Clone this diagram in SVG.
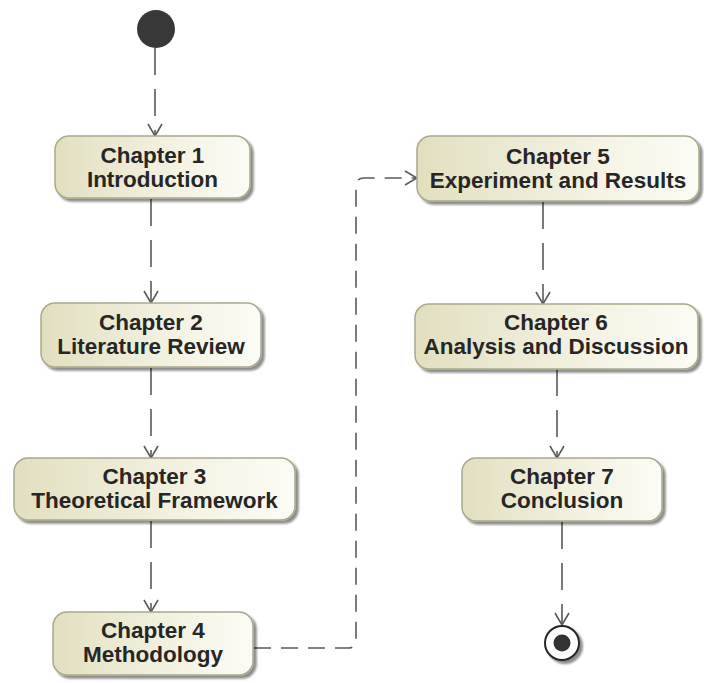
<svg xmlns="http://www.w3.org/2000/svg" width="704" height="683" viewBox="0 0 704 683">
  <style>
    .act { fill: url(#actFill); stroke: #a9a98c; stroke-width: 1.5; filter: url(#shadow); }
    .lbl { font-family: "Liberation Sans", Arial, sans-serif; font-weight: bold; font-size: 22.5px; fill: #262626; text-anchor: middle; }
    .flow { fill: none; stroke: #5a5a5a; stroke-width: 1.6; stroke-dasharray: 27 14; marker-end: url(#open); }
    .flow-long { fill: none; stroke: #5a5a5a; stroke-width: 1.6; stroke-dasharray: 17 10; marker-end: url(#open); }
  </style>
  <defs>
    <linearGradient id="actFill" x1="0" y1="0" x2="1" y2="0">
      <stop offset="0" stop-color="#e2dfc0"/>
      <stop offset="0.6" stop-color="#f3f2e2"/>
      <stop offset="1" stop-color="#fcfcf6"/>
    </linearGradient>
    <filter id="shadow" x="-10%" y="-10%" width="125%" height="135%">
      <feGaussianBlur in="SourceAlpha" stdDeviation="1.3"/>
      <feOffset dx="3" dy="3" result="b"/>
      <feComponentTransfer in="b" result="s">
        <feFuncA type="linear" slope="0.45"/>
      </feComponentTransfer>
      <feMerge>
        <feMergeNode in="s"/>
        <feMergeNode in="SourceGraphic"/>
      </feMerge>
    </filter>
    <marker id="open" markerUnits="userSpaceOnUse" viewBox="0 0 14 16" markerWidth="14" markerHeight="16" refX="13" refY="8" orient="auto">
      <path d="M1,1 L13,8 L1,15" fill="none" stroke="#5a5a5a" stroke-width="1.6"/>
    </marker>
  </defs>

  <!-- control flows -->
  <g id="connectors">
    <path class="flow" d="M155,48 V136"/>
    <path class="flow" d="M151,199 V303"/>
    <path class="flow" d="M151,368 V458"/>
    <path class="flow" d="M151,521 V612"/>
    <path class="flow-long" d="M254,648 H348 Q356,648 356,640 V186 Q356,178 364,178 H417"/>
    <path class="flow" d="M543,202 V304"/>
    <path class="flow" d="M557,369 V458"/>
    <path class="flow" d="M562,522 V625"/>
  </g>

  <!-- initial node -->
  <g id="start">
    <circle cx="156" cy="29" r="19" fill="#383838"/>
  </g>

  <g id="ch1">
    <rect class="act" x="55" y="136" width="195" height="62" rx="14"/>
    <text class="lbl" x="152.5" y="163">Chapter 1</text>
    <text class="lbl" x="152.5" y="187">Introduction</text>
  </g>

  <g id="ch2">
    <rect class="act" x="41" y="303" width="220" height="64" rx="14"/>
    <text class="lbl" x="151" y="330">Chapter 2</text>
    <text class="lbl" x="151" y="354">Literature Review</text>
  </g>

  <g id="ch3">
    <rect class="act" x="14" y="458" width="281" height="62" rx="14"/>
    <text class="lbl" x="154.5" y="484">Chapter 3</text>
    <text class="lbl" x="154.5" y="508">Theoretical Framework</text>
  </g>

  <g id="ch4">
    <rect class="act" x="53" y="612" width="200" height="63" rx="14"/>
    <text class="lbl" x="153" y="638">Chapter 4</text>
    <text class="lbl" x="153" y="662">Methodology</text>
  </g>

  <g id="ch5">
    <rect class="act" x="417" y="136" width="282" height="65" rx="14"/>
    <text class="lbl" x="558" y="164">Chapter 5</text>
    <text class="lbl" x="558" y="188">Experiment and Results</text>
  </g>

  <g id="ch6">
    <rect class="act" x="415" y="304" width="283" height="65" rx="14"/>
    <text class="lbl" x="556" y="330">Chapter 6</text>
    <text class="lbl" x="556" y="354">Analysis and Discussion</text>
  </g>

  <g id="ch7">
    <rect class="act" x="462" y="458" width="200" height="63" rx="14"/>
    <text class="lbl" x="562" y="484">Chapter 7</text>
    <text class="lbl" x="562" y="508">Conclusion</text>
  </g>

  <!-- final node -->
  <g id="end">
    <circle cx="562" cy="643" r="17" fill="#ffffff" stroke="#262626" stroke-width="2" filter="url(#shadow)"/>
    <circle cx="562" cy="643" r="8.5" fill="#333333"/>
  </g>
</svg>
